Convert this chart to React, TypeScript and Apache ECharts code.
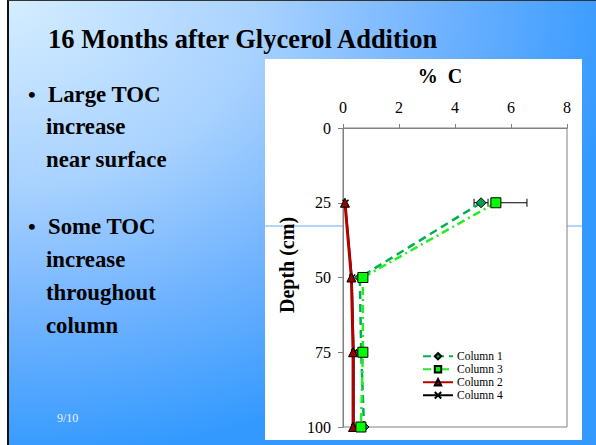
import React, { useEffect, useRef } from "react";
import * as echarts from "echarts";

// ---- data ----
const depths = [25, 50, 75, 100];
const column1 = [4.93, 0.6, 0.65, 0.75];
const column3 = [5.46, 0.71, 0.71, 0.64];
const column2 = [0.07, 0.3, 0.36, 0.36];
const column4 = [0.09, 0.33, 0.4, 0.4];
const errDepth = [25, 25];
const errLow = [4.68, 5.46];
const errHigh = [5.18, 6.57];
const xTicks = [0, 2, 4, 6, 8];
const yTicks = [0, 25, 50, 75, 100];
const legendOrder = ["Column 1", "Column 3", "Column 2", "Column 4"];
const titleText = "16 Months after Glycerol Addition";
const bulletLines = [
  { bullet: true, text: "Large TOC" },
  { bullet: false, text: "increase" },
  { bullet: false, text: "near surface" },
  { bullet: true, text: "Some TOC" },
  { bullet: false, text: "increase" },
  { bullet: false, text: "throughout" },
  { bullet: false, text: "column" },
];
const bulletY = [94, 126, 159, 226, 259, 292.5, 325.5];

const SERIF = "'Liberation Serif', 'Times New Roman', serif";

export default function App() {
  const ref = useRef<HTMLDivElement>(null);

  useEffect(() => {
    if (!ref.current) return;
    const chart = echarts.init(ref.current, null, { renderer: "svg" });

    const pts = (vals: number[]) => depths.map((d, i) => [vals[i], d]);

    const graphics: any[] = [
      {
        type: "rect",
        z: -10,
        shape: { x: 265, y: 59, width: 317, height: 381 },
        style: { fill: "#ffffff" },
      },
      {
        type: "line",
        z: -5,
        shape: { x1: 265, y1: 226, x2: 343, y2: 226 },
        style: { stroke: "#66aaff", lineWidth: 1 },
      },
      {
        type: "line",
        z: -5,
        shape: { x1: 567, y1: 226, x2: 582, y2: 226 },
        style: { stroke: "#66aaff", lineWidth: 1 },
      },
      {
        type: "text",
        x: 48,
        y: 39,
        style: {
          text: titleText,
          font: `bold 26.5px ${SERIF}`,
          fill: "#000",
          textAlign: "left",
          textVerticalAlign: "middle",
        },
      },
      {
        type: "text",
        x: 440,
        y: 76,
        style: {
          text: "%  C",
          font: `bold 20px ${SERIF}`,
          fill: "#000",
          textAlign: "center",
          textVerticalAlign: "middle",
        },
      },
      {
        type: "text",
        x: 287,
        y: 265,
        rotation: Math.PI / 2,
        style: {
          text: "Depth (cm)",
          font: `bold 20px ${SERIF}`,
          fill: "#000",
          textAlign: "center",
          textVerticalAlign: "middle",
        },
      },
      {
        type: "text",
        x: 57,
        y: 418,
        style: {
          text: "9/10",
          font: `12px ${SERIF}`,
          fill: "#e6f2ff",
          textAlign: "left",
          textVerticalAlign: "middle",
        },
      },
    ];
    bulletLines.forEach((b, i) => {
      if (b.bullet) {
        graphics.push({
          type: "text",
          x: 28,
          y: bulletY[i],
          style: {
            text: "•",
            font: `bold 22px ${SERIF}`,
            fill: "#000",
            textAlign: "left",
            textVerticalAlign: "middle",
          },
        });
      }
      graphics.push({
        type: "text",
        x: b.bullet ? 48 : 46,
        y: bulletY[i],
        style: {
          text: b.text,
          font: `bold 22.8px ${SERIF}`,
          fill: "#000",
          textAlign: "left",
          textVerticalAlign: "middle",
        },
      });
    });

    const option: any = {
      animation: false,
      backgroundColor: "transparent",
      graphic: graphics,
      grid: {
        left: 343,
        top: 128,
        width: 224,
        height: 299,
        show: true,
        backgroundColor: "#ffffff",
        borderColor: "#808080",
        borderWidth: 1,
      },
      legend: {
        data: legendOrder,
        orient: "vertical",
        left: 422,
        top: 350,
        itemWidth: 30,
        itemHeight: 8,
        itemGap: 0.5,
        padding: 0,
        textStyle: { fontFamily: SERIF, fontSize: 11.5, color: "#000", lineHeight: 12.5, padding: [0, 0, 0, -1] },
      },
      xAxis: {
        type: "value",
        position: "top",
        min: xTicks[0],
        max: xTicks[xTicks.length - 1],
        interval: xTicks[1] - xTicks[0],
        axisLine: { show: true, lineStyle: { color: "#808080", width: 1 } },
        axisTick: { show: true, length: 4, lineStyle: { color: "#808080" } },
        splitLine: { show: false },
        axisLabel: { fontFamily: SERIF, fontSize: 16, color: "#000", margin: 13 },
      },
      yAxis: {
        type: "value",
        inverse: true,
        min: yTicks[0],
        max: yTicks[yTicks.length - 1],
        interval: yTicks[1] - yTicks[0],
        axisLine: { show: true, lineStyle: { color: "#808080", width: 1 } },
        axisTick: { show: true, length: 5, lineStyle: { color: "#808080" } },
        splitLine: { show: false },
        axisLabel: { fontFamily: SERIF, fontSize: 16, color: "#000", margin: 12 },
      },
      series: [
        {
          type: "custom",
          name: "errors",
          z: 1,
          data: errDepth.map((d, i) => [errLow[i], errHigh[i], d]),
          encode: { x: [0, 1], y: 2 },
          renderItem: (params: any, api: any) => {
            const lo = api.coord([api.value(0), api.value(2)]);
            const hi = api.coord([api.value(1), api.value(2)]);
            const st = { stroke: "#000", lineWidth: 1 };
            return {
              type: "group",
              children: [
                { type: "line", shape: { x1: lo[0], y1: lo[1], x2: hi[0], y2: hi[1] }, style: st },
                { type: "line", shape: { x1: lo[0], y1: lo[1] - 4, x2: lo[0], y2: lo[1] + 4 }, style: st },
                { type: "line", shape: { x1: hi[0], y1: hi[1] - 4, x2: hi[0], y2: hi[1] + 4 }, style: st },
              ],
            };
          },
        },
        {
          name: "Column 4",
          type: "line",
          z: 2,
          data: pts(column4),
          symbol: "path://M0,0L10,10M10,0L0,10",
          symbolSize: 6,
          lineStyle: { color: "#000", width: 1 },
          itemStyle: { color: "#000", borderColor: "#000", borderWidth: 1.5 },
        },
        {
          name: "Column 2",
          type: "line",
          z: 3,
          data: pts(column2),
          symbol: "triangle",
          symbolSize: 9,
          lineStyle: { color: "#b00000", width: 3 },
          itemStyle: { color: "#990000", borderColor: "#000", borderWidth: 1 },
        },
        {
          name: "Column 1",
          type: "line",
          z: 4,
          data: pts(column1),
          symbol: "diamond",
          symbolSize: 10,
          lineStyle: { color: "#00b050", width: 2.5, type: [8, 5] },
          itemStyle: { color: "#00a050", borderColor: "#000", borderWidth: 1 },
        },
        {
          name: "Column 3",
          type: "line",
          z: 5,
          data: pts(column3),
          symbol: "rect",
          symbolSize: 10,
          lineStyle: { color: "#22ee22", width: 2.5, type: [8, 4, 2, 4] },
          itemStyle: { color: "#00ff00", borderColor: "#000", borderWidth: 1 },
        },
      ],
    };

    chart.setOption(option);
    return () => chart.dispose();
  }, []);

  return (
    <div
      style={{
        position: "fixed",
        left: 0,
        top: 0,
        width: 596,
        height: 445,
        background: "#ffffff",
        overflow: "hidden",
      }}
    >
      <div
        style={{
          position: "absolute",
          left: 7,
          top: 0,
          width: 589,
          height: 445,
          boxSizing: "border-box",
          borderLeft: "2px solid #111",
          borderTop: "1px solid #333",
          background:
            "radial-gradient(ellipse 620px 460px at 0px 0px, #d4edff 0%, #a9d2ff 40%, #6fb2ff 70%, #3399ff 100%)",
        }}
      />
      <div ref={ref} style={{ position: "absolute", left: 0, top: 0, width: 596, height: 445 }} />
    </div>
  );
}
